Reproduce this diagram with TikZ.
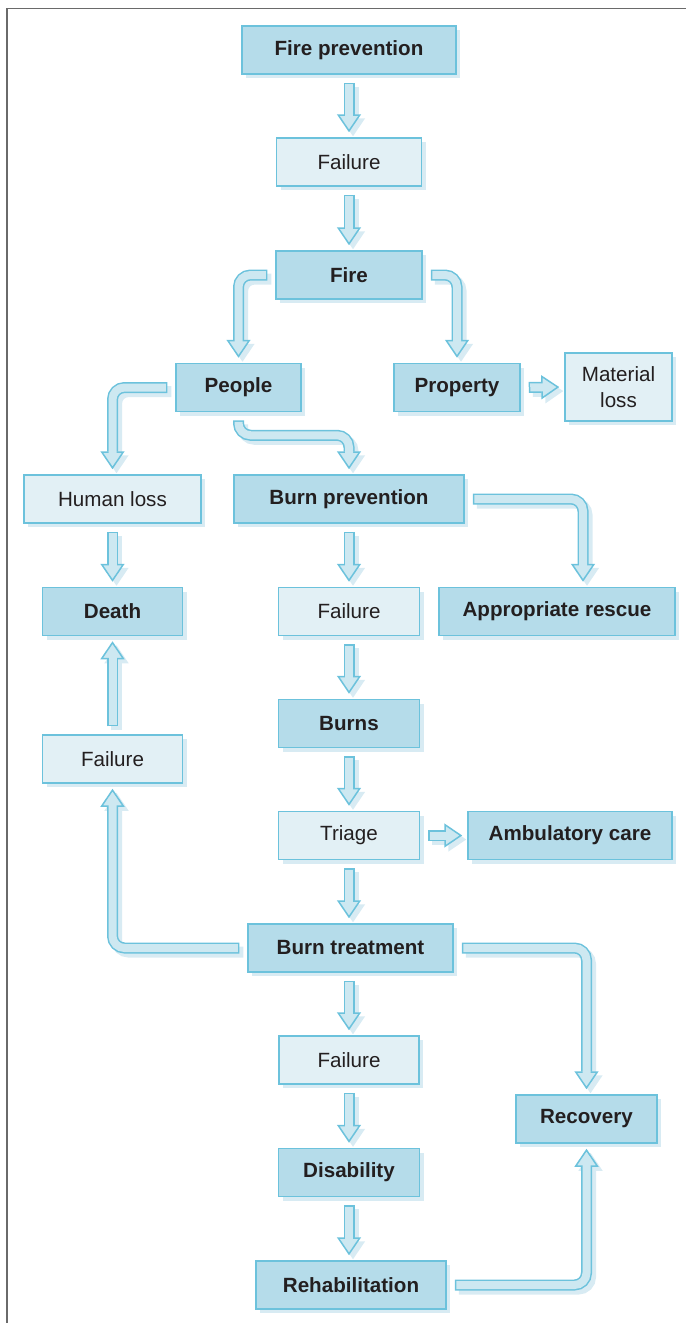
\documentclass[tikz,border=0pt]{standalone}
\usepackage{fontspec}
\setmainfont{Liberation Sans}
\usetikzlibrary{arrows.meta,shadows}
\definecolor{BoxDark}{HTML}{B5DCEA}
\definecolor{BoxLight}{HTML}{E2F0F5}
\definecolor{EdgeBlue}{HTML}{6CC2DC}
\definecolor{ShadowBlue}{HTML}{D8EBF3}
\definecolor{ShaftFill}{HTML}{CDE8F1}
\definecolor{InkGray}{HTML}{231F20}
\definecolor{FrameGray}{HTML}{6A6A6A}

\newcommand{\flow}[1]{%
  \draw[flowshadow] #1;
  \draw[flowout] #1;
  \draw[flowin] #1;
}

\begin{document}
\begin{tikzpicture}[x=0.5pt, y=-0.5pt,
        box/.style={draw=EdgeBlue, line width=0.75pt, minimum height=24pt,
                    inner sep=2pt, align=center, text=InkGray,
                    drop shadow={shadow xshift=2pt, shadow yshift=-2pt,
                                 fill=ShadowBlue, opacity=1}},
        dark/.style={box, fill=BoxDark, font=\fontsize{10.3}{13}\selectfont\bfseries},
        light/.style={box, fill=BoxLight, font=\fontsize{10.3}{13}\selectfont},
        flowbase/.style={line width=5.5pt, rounded corners=6pt,
                         shorten <=4pt, shorten >=2.5pt},
        flowout/.style={flowbase, draw=EdgeBlue,
                        -{Triangle[width=12pt, length=9pt, line width=0.75pt, fill=ShaftFill]}},
        flowshadow/.style={flowbase, draw=ShadowBlue, transform canvas={shift={(2pt,-2pt)}},
                           -{Triangle[width=12pt, length=9pt, line width=0.75pt, fill=ShadowBlue]}},
        flowin/.style={line width=4pt, rounded corners=6pt, draw=ShaftFill,
                       shorten <=4.75pt, shorten >=10.5pt},
      ]
      \useasboundingbox (0,0) rectangle (686,1323);
      \draw[FrameGray, line width=0.9pt] (7,1323) -- (7,8.5) -- (686,8.5);

      \node[dark,  minimum width=107pt]  (fireprev)   at (349,50)     {Fire prevention};
      \node[light, minimum width=72.5pt] (failA)      at (349,162)    {Failure};
      \node[dark,  minimum width=73pt]   (fire)       at (349,275)    {Fire};
      \node[dark,  minimum width=62.5pt] (people)     at (238.5,387.5) {People};
      \node[dark,  minimum width=63pt]   (property)   at (457,387.5)  {Property};
      \node[light, minimum width=53.5pt, minimum height=34pt] (matloss) at (618.5,387) {Material\\loss};
      \node[light, minimum width=88.5pt] (humanloss)  at (112.5,499)  {Human loss};
      \node[dark,  minimum width=115pt]  (burnprev)   at (349,499)    {Burn prevention};
      \node[dark,  minimum width=70pt]   (death)      at (112.5,611.5) {Death};
      \node[light, minimum width=70.5pt] (failB)      at (349,611.5)  {Failure};
      \node[dark,  minimum width=118pt]  (rescue)     at (557,611.5)  {Appropriate rescue};
      \node[dark,  minimum width=70.5pt] (burns)      at (349,723.5)  {Burns};
      \node[light, minimum width=70pt]   (failC)      at (112.5,759)  {Failure};
      \node[light, minimum width=70.5pt] (triage)     at (349,835.5)  {Triage};
      \node[dark,  minimum width=102pt]  (ambulatory) at (570,835.5)  {Ambulatory care};
      \node[dark,  minimum width=102.5pt] (treatment) at (350.5,948)  {Burn treatment};
      \node[light, minimum width=70pt]   (failD)      at (349,1060)   {Failure};
      \node[dark,  minimum width=70.5pt] (disability) at (349,1172.5) {Disability};
      \node[dark,  minimum width=95pt]   (rehab)      at (351,1285)   {Rehabilitation};
      \node[dark,  minimum width=70.5pt] (recovery)   at (586.5,1119) {Recovery};

      \flow{(fireprev.south) -- (failA.north)}
      \flow{(failA.south) -- (fire.north)}
      \flow{(fire.west) -| (people.north)}
      \flow{(fire.east) -| (property.north)}
      \flow{(property.east) -- (matloss.west)}
      \flow{(people.west) -| (humanloss.north)}
      \flow{(people.south) -- ++(0,23) -| (burnprev.north)}
      \flow{(humanloss.south) -- (death.north)}
      \flow{(burnprev.east) -| ([xshift=13pt]rescue.north)}
      \flow{(burnprev.south) -- (failB.north)}
      \flow{(failB.south) -- (burns.north)}
      \flow{(burns.south) -- (triage.north)}
      \flow{(triage.east) -- (ambulatory.west)}
      \flow{(triage.south) -- (treatment.north -| triage.south)}
      \flow{(treatment.west) -| (failC.south)}
      \flow{(failC.north) -- (death.south)}
      \flow{(treatment.east) -| (recovery.north)}
      \flow{(treatment.south -| failD.north) -- (failD.north)}
      \flow{(failD.south) -- (disability.north)}
      \flow{(disability.south) -- (rehab.north -| disability.south)}
      \flow{(rehab.east) -| (recovery.south)}
    \end{tikzpicture}
\end{document}
